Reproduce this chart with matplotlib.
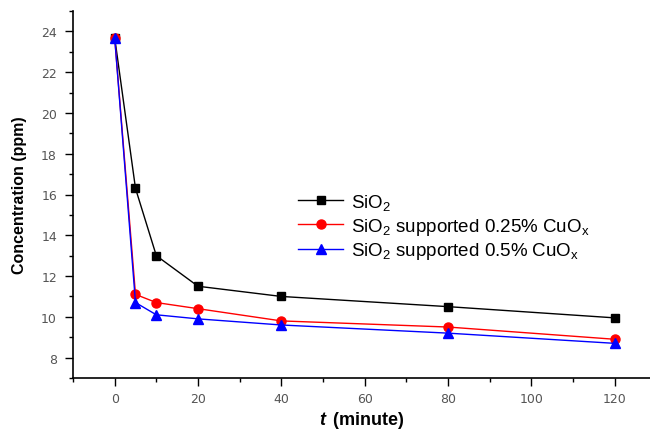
import matplotlib
matplotlib.use("Agg")
import matplotlib.pyplot as plt
from matplotlib.ticker import MultipleLocator

# --- datos ---
t_min = [0, 5, 10, 20, 40, 80, 120]
sio2 = [23.7, 16.3, 13.0, 11.5, 11.0, 10.5, 9.95]
cuo_025 = [23.7, 11.1, 10.7, 10.4, 9.8, 9.5, 8.9]
cuo_05 = [23.7, 10.7, 10.1, 9.9, 9.6, 9.2, 8.7]

labels = [
    r"SiO$_2$",
    r"SiO$_2$ supported 0.25% CuO$_\mathrm{x}$",
    r"SiO$_2$ supported 0.5% CuO$_\mathrm{x}$",
]

plt.rcParams["font.family"] = ["Liberation Sans", "DejaVu Sans"]
plt.rcParams["mathtext.fontset"] = "custom"
plt.rcParams["mathtext.rm"] = "Liberation Sans"
plt.rcParams["mathtext.it"] = "Liberation Sans:italic"
plt.rcParams["mathtext.bf"] = "Liberation Sans:bold"
plt.rcParams["mathtext.bfit"] = "Liberation Sans:italic:bold"

fig = plt.figure(figsize=(6.5, 4.31), dpi=100)
ax = fig.add_axes([73 / 650, 1 - 379 / 431, 577 / 650, 367 / 431])

ax.plot(t_min, sio2, color="black", marker="s", ms=6, lw=1, label=labels[0])
ax.plot(t_min, cuo_025, color="red", marker="o", ms=6.5, lw=1, label=labels[1])
ax.plot(t_min, cuo_05, color="blue", marker="^", ms=7.5, lw=1, label=labels[2])

ax.set_xlim(-10, 128.5)
ax.set_ylim(7, 25)
ax.xaxis.set_major_locator(MultipleLocator(20))
ax.xaxis.set_minor_locator(MultipleLocator(10))
ax.yaxis.set_major_locator(MultipleLocator(2))
ax.yaxis.set_minor_locator(MultipleLocator(1))

for s in ["top", "right"]:
    ax.spines[s].set_visible(False)
for s in ["left", "bottom"]:
    ax.spines[s].set_linewidth(1.2)

ax.tick_params(which="major", length=5.5, width=1, direction="out",
               labelsize=9, labelcolor="#555555", pad=6)
ax.tick_params(which="minor", length=2.8, width=1, direction="out")
ax.tick_params(axis="x", pad=4.5)
for lbl in ax.get_xticklabels() + ax.get_yticklabels():
    lbl.set_fontfamily("DejaVu Sans")

ax.set_ylabel("Concentration (ppm)", fontsize=11.5, fontweight="bold", labelpad=10)
ax.set_xlabel(r"$\mathbfit{t}\,$ (minute)", fontsize=13, fontweight="bold", labelpad=3)

ax.legend(loc="upper left", bbox_to_anchor=(298 / 650, 1 - 193 / 431),
          bbox_transform=fig.transFigure, frameon=False, fontsize=13.5,
          handlelength=2.4, handletextpad=0.45, labelspacing=0.2,
          borderpad=0, borderaxespad=0)

fig.savefig("out.png", dpi=100)
